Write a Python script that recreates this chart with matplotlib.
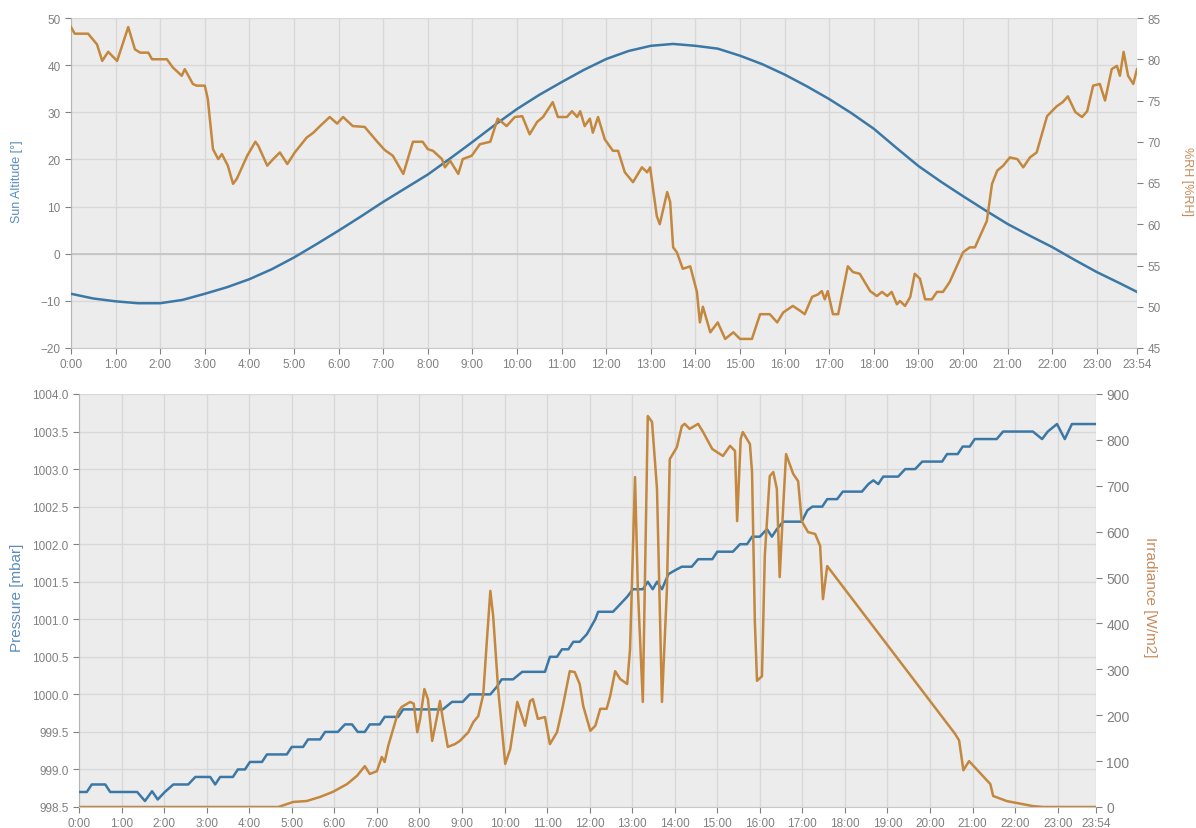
import matplotlib
matplotlib.use("Agg")
import matplotlib.pyplot as plt
import numpy as np

plt.rcParams['font.family'] = ['Liberation Sans', 'DejaVu Sans']

# x axis: minutes after midnight
hour_ticks = list(range(0, 1440, 60)) + [1434]
hour_labels = [f"{h}:00" for h in range(24)] + ["23:54"]

# ---- top panel: sun altitude (left) and relative humidity (right)
sun_time = [0, 30, 60, 90, 120, 150, 180, 210, 240, 270, 300, 330, 360, 390, 420, 450,
            480, 510, 540, 570, 600, 630, 660, 690, 720, 750, 780, 810, 840, 870, 900,
            930, 960, 990, 1020, 1050, 1080, 1110, 1140, 1170, 1200, 1230, 1260, 1290,
            1320, 1350, 1380, 1410, 1434]
sun_alt = [-8.5, -9.5, -10.1, -10.5, -10.5, -9.8, -8.5, -7.1, -5.4, -3.3, -0.8, 2.0, 4.9,
           7.9, 11.0, 13.9, 16.8, 20.2, 23.7, 27.3, 30.7, 33.7, 36.4, 39.0, 41.3, 43.0,
           44.1, 44.5, 44.1, 43.5, 42.0, 40.2, 38.0, 35.5, 32.8, 29.8, 26.5, 22.5, 18.6,
           15.3, 12.2, 9.2, 6.3, 3.8, 1.4, -1.3, -3.9, -6.2, -8.1]

rh_time = [0, 5, 23, 35, 42, 50, 62, 77, 86, 93, 104, 109, 129, 137, 149, 153, 164, 169,
           180, 184, 191, 198, 203, 211, 218, 223, 237, 248, 252, 264, 272, 281, 291, 301,
           317, 326, 335, 348, 358, 366, 379, 395, 412, 422, 433, 447, 460, 473, 480, 487,
           499, 503, 510, 521, 527, 539, 550, 564, 574, 586, 597, 607, 617, 627, 635, 648,
           655, 667, 674, 681, 685, 691, 698, 702, 709, 718, 729, 736, 745, 756, 768, 775,
           779, 788, 792, 802, 806, 810, 815, 823, 833, 842, 846, 850, 860, 870, 880, 891,
           900, 916, 927, 940, 950, 958, 971, 981, 987, 997, 1005, 1010, 1014, 1018, 1025,
           1032, 1038, 1045, 1052, 1061, 1075, 1084, 1091, 1098, 1104, 1111, 1115, 1122,
           1129, 1135, 1142, 1149, 1158, 1165, 1173, 1182, 1200, 1209, 1216, 1225, 1232,
           1239, 1246, 1254, 1263, 1273, 1281, 1290, 1299, 1313, 1326, 1334, 1341, 1351,
           1360, 1367, 1375, 1384, 1391, 1400, 1407, 1411, 1416, 1422, 1429, 1434]
rh_val = [83.9, 83.1, 83.1, 81.8, 79.8, 80.9, 79.8, 83.9, 81.2, 80.8, 80.8, 80.0, 80.0, 79.0,
          78.0, 78.8, 77.0, 76.8, 76.8, 75.2, 69.1, 67.9, 68.5, 67.1, 64.9, 65.5, 68.3, 70.0,
          69.5, 67.1, 67.9, 68.7, 67.3, 68.7, 70.5, 71.1, 71.9, 73.0, 72.2, 73.0, 71.9, 71.8,
          70.0, 69.0, 68.3, 66.1, 70.0, 70.0, 69.1, 68.9, 67.9, 66.9, 67.7, 66.1, 67.9, 68.3,
          69.7, 70.0, 72.8, 71.9, 73.0, 73.1, 70.9, 72.4, 73.0, 74.8, 73.0, 73.0, 73.7, 73.0,
          73.7, 71.9, 72.8, 71.1, 73.0, 70.3, 68.9, 68.9, 66.3, 65.1, 66.9, 66.3, 66.9, 61.0,
          60.0, 63.9, 62.7, 57.2, 56.6, 54.6, 54.9, 51.8, 48.1, 50.0, 46.9, 48.1, 46.1, 46.9,
          46.1, 46.1, 49.1, 49.1, 48.1, 49.3, 50.1, 49.5, 49.1, 51.2, 51.5, 51.9, 50.9, 51.9,
          49.1, 49.1, 51.8, 54.9, 54.2, 54.0, 51.9, 51.3, 51.8, 51.3, 51.8, 50.3, 50.7, 50.1,
          51.2, 54.0, 53.4, 50.9, 50.9, 51.8, 51.8, 53.0, 56.6, 57.2, 57.2, 59.0, 60.4, 64.9,
          66.5, 67.1, 68.1, 67.9, 66.9, 68.1, 68.7, 73.1, 74.3, 74.8, 75.5, 73.6, 73.0, 73.7,
          76.8, 77.0, 75.0, 78.8, 79.2, 78.0, 80.9, 78.0, 77.0, 78.8]

# ---- bottom panel: pressure (left) and irradiance (right)
p_time = [0, 11, 18, 37, 44, 82, 93, 103, 111, 121, 133, 154, 164, 185, 192, 199, 217, 224,
          234, 241, 258, 265, 293, 300, 316, 323, 340, 347, 365, 375, 385, 393, 403, 410,
          424, 431, 450, 457, 513, 526, 541, 551, 580, 589, 596, 612, 625, 657, 664, 674,
          681, 690, 697, 706, 716, 728, 732, 753, 763, 773, 781, 795, 802, 809, 815, 822,
          831, 840, 850, 864, 873, 893, 900, 922, 932, 942, 949, 960, 970, 977, 984, 993,
          1019, 1027, 1034, 1048, 1055, 1069, 1077, 1104, 1113, 1120, 1127, 1134, 1155,
          1165, 1179, 1189, 1217, 1224, 1239, 1246, 1256, 1263, 1294, 1303, 1345, 1358,
          1366, 1379, 1390, 1400, 1434]
p_val = [998.7, 998.7, 998.8, 998.8, 998.7, 998.7, 998.58, 998.71, 998.6, 998.7, 998.8,
         998.8, 998.9, 998.9, 998.8, 998.9, 998.9, 999.0, 999.0, 999.1, 999.1, 999.2, 999.2,
         999.3, 999.3, 999.4, 999.4, 999.5, 999.5, 999.6, 999.6, 999.5, 999.5, 999.6, 999.6,
         999.7, 999.7, 999.8, 999.8, 999.9, 999.9, 1000.0, 1000.0, 1000.1, 1000.2, 1000.2,
         1000.3, 1000.3, 1000.5, 1000.5, 1000.6, 1000.6, 1000.7, 1000.7, 1000.8, 1001.0,
         1001.1, 1001.1, 1001.2, 1001.3, 1001.4, 1001.4, 1001.5, 1001.4, 1001.5, 1001.4,
         1001.6, 1001.65, 1001.7, 1001.7, 1001.8, 1001.8, 1001.9, 1001.9, 1002.0, 1002.0,
         1002.1, 1002.1, 1002.2, 1002.1, 1002.2, 1002.3, 1002.3, 1002.45, 1002.5, 1002.5,
         1002.6, 1002.6, 1002.7, 1002.7, 1002.8, 1002.85, 1002.8, 1002.9, 1002.9, 1003.0,
         1003.0, 1003.1, 1003.1, 1003.2, 1003.2, 1003.3, 1003.3, 1003.4, 1003.4, 1003.5,
         1003.5, 1003.4, 1003.5, 1003.6, 1003.4, 1003.6, 1003.6]

irr_time = [0, 281, 302, 321, 340, 358, 378, 392, 403, 410, 420, 427, 431, 436, 443, 450,
            455, 467, 472, 477, 481, 487, 492, 498, 505, 509, 513, 520, 530, 537, 549, 556,
            563, 570, 575, 580, 584, 591, 601, 608, 618, 625, 629, 636, 640, 647, 657, 664,
            674, 682, 692, 699, 706, 711, 721, 728, 735, 744, 749, 756, 763, 773, 777, 784,
            788, 795, 802, 808, 815, 822, 829, 833, 843, 850, 854, 861, 873, 880, 893, 908,
            918, 925, 928, 933, 936, 946, 949, 953, 956, 963, 967, 974, 979, 984, 988, 993,
            997, 1007, 1014, 1019, 1028, 1038, 1045, 1049, 1055, 1235, 1241, 1247, 1255,
            1285, 1289, 1308, 1345, 1360, 1434]
irr_val = [0, 0, 11, 13, 22, 33, 50, 68, 89, 72, 78, 109, 98, 133, 170, 207, 218, 229, 225,
           163, 192, 257, 235, 144, 198, 231, 192, 131, 137, 144, 163, 185, 198, 245, 360,
           471, 416, 257, 94, 126, 229, 196, 177, 231, 235, 192, 196, 137, 163, 218, 296,
           294, 268, 220, 166, 177, 214, 214, 242, 296, 279, 268, 344, 719, 475, 229, 852,
           839, 693, 229, 475, 758, 784, 830, 835, 824, 835, 817, 780, 765, 787, 776, 623,
           802, 817, 791, 730, 403, 275, 285, 547, 721, 730, 693, 501, 656, 769, 726, 710,
           623, 599, 595, 569, 453, 525, 160, 145, 80, 100, 50, 24, 13, 2, 0, 0]

BLUE = "#3b78a6"
ORANGE = "#c4873e"
BG = "#ececec"
GRID = "#d8d8d8"
TICK = "#808080"

fig = plt.figure(figsize=(11.96, 8.29), dpi=100)

def style_axes(ax, ax2):
    ax.set_facecolor(BG)
    ax.set_xlim(0, 1434)
    ax.set_xticks(hour_ticks)
    ax.set_xticklabels(hour_labels)
    ax.grid(True, color=GRID, linewidth=1.0)
    ax.set_axisbelow(True)
    for a in (ax, ax2):
        for s in a.spines.values():
            s.set_visible(False)
        a.tick_params(colors=TICK, labelsize=8.5, length=4, width=0.8)
    ax.spines['left'].set_visible(True)
    ax.spines['left'].set_color("#b5b5b5")
    ax.spines['bottom'].set_visible(True)
    ax.spines['bottom'].set_color("#c8c8c8")
    ax.tick_params(axis='x', pad=3)

# top panel
ax1 = fig.add_axes([71/1196, 1-349/829, 1066/1196, 330/829])
ax1b = ax1.twinx()
style_axes(ax1, ax1b)
ax1.axhline(0, color="#c2c2c2", linewidth=1.2, zorder=1)
ax1.plot(sun_time, sun_alt, color=BLUE, linewidth=1.8, zorder=3)
ax1b.plot(rh_time, rh_val, color=ORANGE, linewidth=1.8)
ax1.set_ylim(-20, 50)
ax1.set_yticks(range(-20, 51, 10))
ax1b.set_ylim(45, 85)
ax1b.set_yticks(range(45, 86, 5))
fig.text(17/1196, 1-182/829, "Sun Altitude [°]", rotation=90, color="#5a8cbf",
         fontsize=9, ha='center', va='center')
fig.text(1187/1196, 1-182/829, "%RH [%RH]", rotation=-90, color="#c88a5a",
         fontsize=9, ha='center', va='center')

# bottom panel
ax2 = fig.add_axes([79/1196, 1-808/829, 1017/1196, 413/829])
ax2b = ax2.twinx()
style_axes(ax2, ax2b)
ax2.plot(p_time, p_val, color=BLUE, linewidth=1.8, zorder=3)
ax2b.plot(irr_time, irr_val, color=ORANGE, linewidth=1.8)
ax2.set_ylim(998.5, 1004.0)
ax2.set_yticks(np.arange(998.5, 1004.01, 0.5))
ax2.set_yticklabels([f"{v:.1f}" for v in np.arange(998.5, 1004.01, 0.5)])
ax2b.set_ylim(0, 900)
ax2b.set_yticks(range(0, 901, 100))
ax2b.tick_params(axis='y', labelsize=10)
fig.text(17/1196, 1-598/829, "Pressure [mbar]", rotation=90, color="#5a8cbf",
         fontsize=11, ha='center', va='center')
fig.text(1150/1196, 1-597/829, "Irradiance [W/m2]", rotation=-90, color="#c88a5a",
         fontsize=11, ha='center', va='center')

fig.savefig("out.png", dpi=100)
